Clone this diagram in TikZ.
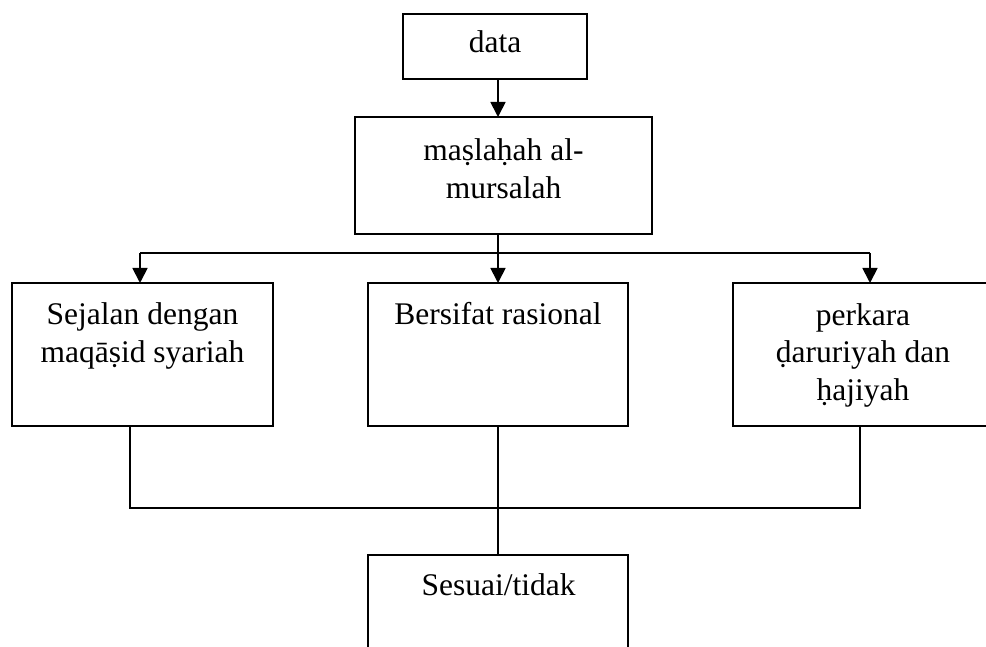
\documentclass[tikz,border=0pt]{standalone}
\usepackage{fontspec}
\setmainfont{Liberation Serif}
\usetikzlibrary{arrows.meta}
\tikzset{
  box/.style={draw=black, line width=1.8pt, rectangle, inner sep=0pt, outer sep=0pt},
  txt/.style={inner sep=0pt, outer sep=0pt, align=center, font=\fontsize{31.5}{37.5}\selectfont},
  conn/.style={draw=black, line width=1.8pt},
  arr/.style={conn, -{Triangle[width=15pt,length=15pt]}}
}
\begin{document}
\begin{tikzpicture}[x=1pt,y=-1pt]
\useasboundingbox (0,0) rectangle (986,647);
\clip (0,0) rectangle (986,647);
% boxes
\node[box, minimum width=184pt, minimum height=65pt] (data) at (495,46.5) {};
\node[box, minimum width=297pt, minimum height=117pt] (mas) at (503.5,175.5) {};
\node[box, minimum width=261pt, minimum height=143pt] (left) at (142.5,354.5) {};
\node[box, minimum width=260pt, minimum height=143pt] (mid) at (498,354.5) {};
\node[box, minimum width=260pt, minimum height=143pt] (right) at (863,354.5) {};
\node[box, minimum width=260pt, minimum height=160pt] (res) at (498,635) {};
% texts
\node[txt, anchor=base] (tdata) at (495,53) {data};
\node[txt, anchor=north] (tmas) at (503.5,134.75) {\strut maṣlaḥah al-\\mursalah};
\node[txt, anchor=north] (tleft) at (142.5,298.75) {\strut Sejalan dengan\\maqāṣid syariah};
\node[txt, anchor=base] (tmid) at (498,325) {Bersifat rasional};
\node[txt, anchor=north] (tright) at (863,298.75) {\strut perkara\\ḍaruriyah dan\\ḥajiyah};
\node[txt, anchor=base] (tres) at (498.5,595) {Sesuai/tidak};
% junctions
\coordinate (split) at (498,253);
\coordinate (sl) at (140,253);
\coordinate (sr) at (870,253);
\coordinate (lb) at (130,426);
\coordinate (rb) at (860,426);
\coordinate (jl) at (130,508);
\coordinate (jr) at (860,508);
% connectors
\draw[arr] (data.south -| split) -- (split |- mas.north);
\draw[conn] (mas.south -| split) -- (split);
\draw[conn] (sl) -- (sr);
\draw[arr] (sl) -- (sl |- left.north);
\draw[arr] (split) -- (mid.north);
\draw[arr] (sr) -- (sr |- right.north);
\draw[conn] (lb) -- (jl) -- (jr) -- (rb);
\draw[conn] (mid.south) -- (res.north);
\end{tikzpicture}
\end{document}
